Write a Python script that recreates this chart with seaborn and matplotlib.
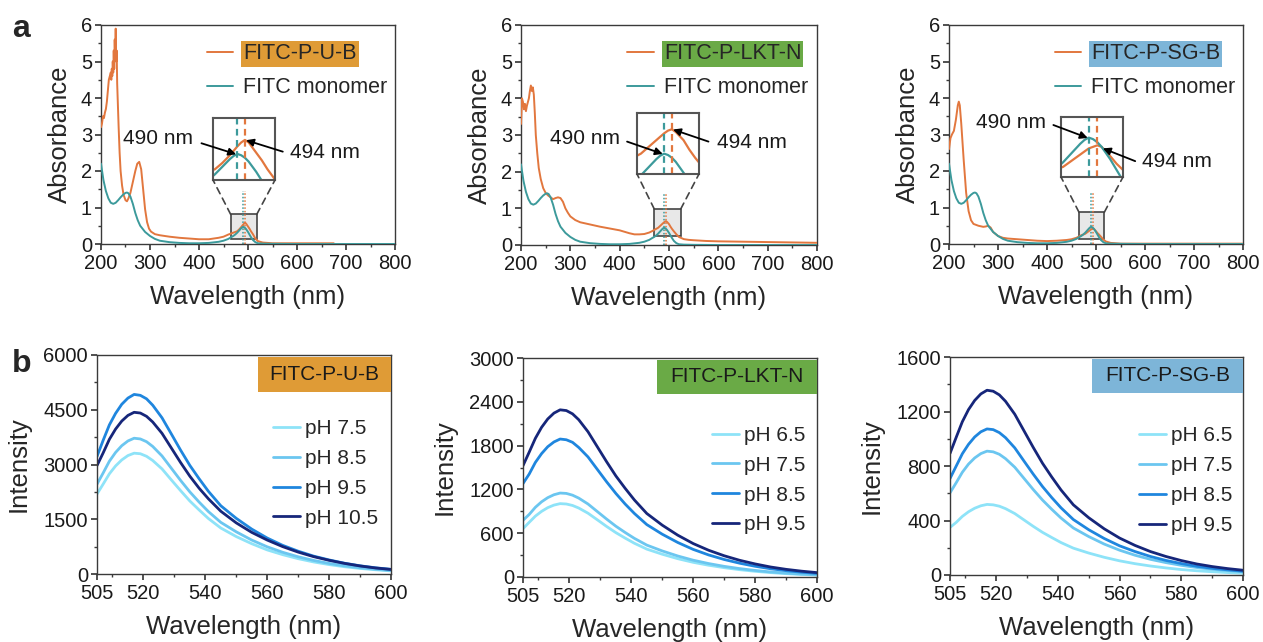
import matplotlib
matplotlib.use("Agg")
import matplotlib.pyplot as plt
import seaborn as sns
from matplotlib.patches import Rectangle, ConnectionPatch
from matplotlib.ticker import MultipleLocator

# ---------------- data: absorbance (panel a) ----------------
wl_mono = [200, 205, 210, 215, 220, 225, 230, 235, 240, 245, 250, 253, 256, 260, 265,
           270, 275, 280, 290, 300, 310, 320, 340, 360, 380, 400, 420, 440, 450, 460,
           466, 470, 474, 478, 482, 486, 488, 490, 492, 494, 496, 498, 500, 503, 506,
           510, 515, 520, 530, 550, 600, 700, 800]
abs_mono = [2.2, 1.75, 1.45, 1.25, 1.13, 1.10, 1.13, 1.2, 1.28, 1.35, 1.40, 1.41, 1.39, 1.3, 1.1,
            0.85, 0.65, 0.5, 0.33, 0.22, 0.14, 0.09, 0.05, 0.03, 0.02, 0.02, 0.03, 0.06, 0.09, 0.14,
            0.19, 0.22, 0.26, 0.31, 0.37, 0.43, 0.455, 0.47, 0.46, 0.44, 0.41, 0.37, 0.33, 0.26, 0.19,
            0.11, 0.05, 0.02, 0.01, 0.005, 0.0, 0.0, 0.0]

wl_pub = [200, 202, 204, 206, 208, 210, 212, 214, 216, 218, 220, 221, 222, 223, 224,
          225, 226, 227, 228, 229, 230, 231, 232, 233, 234, 236, 238, 240, 243, 246,
          250, 253, 256, 260, 265, 270, 274, 278, 282, 286, 290, 294, 298, 302, 310,
          320, 340, 360, 380, 400, 420, 440, 450, 460, 466, 470, 474, 478, 482, 486,
          490, 492, 494, 496, 498, 500, 503, 506, 510, 515, 520, 530, 540, 550, 600, 675]
abs_pub = [3.2, 3.3, 3.5, 3.45, 3.6, 3.7, 3.9, 4.2, 4.5, 4.6, 4.7, 4.5, 4.8, 4.6, 5.0,
           4.7, 5.3, 4.8, 5.6, 5.1, 5.9, 5.0, 5.3, 4.4, 4.0, 3.2, 2.5, 2.0, 1.6, 1.35,
           1.2, 1.17, 1.25, 1.4, 1.7, 2.0, 2.2, 2.25, 2.05, 1.5, 0.95, 0.6, 0.42, 0.34, 0.27,
           0.24, 0.2, 0.17, 0.15, 0.13, 0.13, 0.17, 0.2, 0.26, 0.29, 0.31, 0.33, 0.35, 0.40, 0.46,
           0.53, 0.56, 0.58, 0.56, 0.52, 0.48, 0.42, 0.35, 0.27, 0.15, 0.08, 0.04, 0.03, 0.02, 0.02, 0.02]

wl_lkt = [200, 202, 204, 206, 208, 210, 212, 214, 216, 218, 220, 222, 224, 226, 228,
          230, 233, 236, 240, 245, 250, 255, 260, 265, 270, 275, 280, 285, 290, 295,
          300, 310, 320, 340, 360, 380, 400, 420, 430, 440, 450, 460, 466, 470, 474,
          478, 482, 486, 490, 492, 494, 496, 498, 500, 503, 506, 510, 515, 520, 530,
          540, 550, 575, 600, 650, 700, 750, 800]
abs_lkt = [3.3, 4.0, 3.9, 3.7, 3.85, 3.65, 3.8, 3.9, 4.0, 4.2, 4.35, 4.2, 4.3, 4.1, 3.6,
           3.0, 2.5, 2.1, 1.8, 1.55, 1.42, 1.35, 1.3, 1.25, 1.28, 1.3, 1.28, 1.18, 1.0, 0.88,
           0.78, 0.68, 0.62, 0.56, 0.50, 0.45, 0.40, 0.32, 0.29, 0.29, 0.30, 0.34, 0.38, 0.41, 0.44,
           0.47, 0.52, 0.57, 0.62, 0.64, 0.65, 0.63, 0.60, 0.57, 0.50, 0.44, 0.37, 0.29, 0.22, 0.16,
           0.14, 0.13, 0.11, 0.10, 0.09, 0.08, 0.07, 0.06]

wl_sgb = [200, 203, 206, 210, 214, 218, 220, 222, 225, 230, 235, 240, 245, 250, 260,
          270, 275, 280, 285, 290, 300, 310, 320, 340, 360, 380, 400, 420, 440, 450,
          460, 466, 470, 474, 478, 482, 486, 490, 492, 494, 496, 498, 500, 503, 506,
          510, 515, 520, 530, 550, 600, 700, 800]
abs_sgb = [2.6, 2.9, 3.0, 3.1, 3.4, 3.8, 3.9, 3.8, 3.3, 2.3, 1.4, 0.9, 0.65, 0.55, 0.5,
           0.47, 0.48, 0.5, 0.45, 0.33, 0.22, 0.17, 0.15, 0.13, 0.11, 0.09, 0.08, 0.09, 0.11, 0.13,
           0.17, 0.21, 0.24, 0.26, 0.28, 0.32, 0.36, 0.40, 0.41, 0.42, 0.41, 0.38, 0.35, 0.30, 0.26,
           0.20, 0.12, 0.07, 0.03, 0.01, 0.01, 0.01, 0.01]

sample_names = ["FITC-P-U-B", "FITC-P-LKT-N", "FITC-P-SG-B"]
monomer_name = "FITC monomer"
peak_monomer = 490
peak_aggregate = 494
peak_labels = ["490 nm", "494 nm"]

# ---------------- data: emission (panel b) ----------------
em_wl = [505, 507, 509, 511, 513, 515, 517, 519, 521, 523, 526, 529, 532, 535,
         538, 541, 545, 550, 555, 560, 565, 570, 575, 580, 585, 590, 595, 600]

pub_labels = ["pH 7.5", "pH 8.5", "pH 9.5", "pH 10.5"]
pub_ph75 = [2190, 2465, 2745, 2960, 3125, 3245, 3310, 3295, 3225, 3110, 2880, 2580, 2285, 2000,
            1755, 1520, 1260, 1025, 830, 660, 530, 420, 330, 258, 199, 152, 116, 86]
pub_ph85 = [2460, 2770, 3090, 3330, 3515, 3645, 3720, 3700, 3625, 3495, 3235, 2900, 2565, 2250,
            1970, 1710, 1415, 1155, 930, 745, 595, 472, 372, 290, 223, 171, 130, 97]
pub_ph95 = [3220, 3665, 4085, 4400, 4650, 4820, 4920, 4895, 4800, 4625, 4280, 3840, 3395, 2975,
            2610, 2265, 1870, 1525, 1230, 985, 785, 625, 490, 385, 295, 225, 170, 128]
pub_ph105 = [2970, 3320, 3690, 3970, 4190, 4345, 4430, 4410, 4320, 4165, 3855, 3455, 3055, 2680,
             2350, 2060, 1720, 1400, 1140, 930, 750, 600, 475, 375, 290, 220, 165, 125]

lkt_labels = ["pH 6.5", "pH 7.5", "pH 8.5", "pH 9.5"]
lkt_ph65 = [662, 749, 834, 899, 950, 985, 1005, 1000, 980, 945, 874, 784, 693, 608,
            533, 462, 382, 312, 251, 201, 161, 128, 100, 78, 60, 46, 35, 26]
lkt_ph75 = [776, 857, 955, 1030, 1087, 1127, 1150, 1145, 1121, 1081, 1000, 897, 794, 696,
            610, 529, 437, 357, 288, 230, 184, 146, 115, 90, 69, 53, 40, 30]
lkt_ph85 = [1280, 1410, 1570, 1690, 1785, 1850, 1890, 1880, 1845, 1775, 1645, 1475, 1305, 1145,
            1000, 870, 718, 586, 473, 378, 302, 240, 189, 147, 113, 87, 66, 49]
lkt_ph95 = [1525, 1710, 1900, 2050, 2165, 2245, 2290, 2280, 2235, 2155, 1990, 1785, 1580, 1385,
            1215, 1055, 870, 710, 573, 458, 366, 291, 229, 179, 137, 105, 80, 60]

sgb_labels = ["pH 6.5", "pH 7.5", "pH 8.5", "pH 9.5"]
sgb_ph65 = [349, 386, 430, 464, 490, 508, 518, 515, 505, 487, 451, 404, 357, 313,
            275, 238, 197, 161, 130, 104, 83, 66, 52, 40, 31, 24, 18, 13]
sgb_ph75 = [603, 677, 754, 814, 859, 891, 909, 904, 886, 854, 791, 709, 627, 550,
            482, 418, 345, 282, 227, 182, 145, 115, 91, 71, 55, 42, 32, 24]
sgb_ph85 = [708, 799, 890, 959, 1013, 1051, 1072, 1067, 1045, 1008, 933, 836, 740, 649,
            568, 493, 407, 332, 268, 214, 172, 136, 107, 84, 64, 49, 38, 28]
sgb_ph95 = [892, 1010, 1125, 1214, 1281, 1329, 1356, 1349, 1322, 1275, 1180, 1058, 936, 820,
            719, 624, 515, 420, 339, 271, 217, 172, 136, 106, 81, 62, 47, 35]

# ---------------- style ----------------
sns.set_theme(style="ticks")
plt.rcParams["font.family"] = ["Liberation Sans", "DejaVu Sans"]
plt.rcParams.update({
    "axes.edgecolor": "#3a3a3a", "axes.linewidth": 1.0,
    "xtick.direction": "out", "ytick.direction": "out",
    "xtick.major.size": 4, "ytick.major.size": 4,
    "xtick.minor.size": 2.5, "ytick.minor.size": 2.5,
    "xtick.color": "#3a3a3a", "ytick.color": "#3a3a3a",
    "xtick.labelcolor": "#1a1a1a", "ytick.labelcolor": "#1a1a1a",
    "xtick.labelsize": 14.5, "ytick.labelsize": 14.5,
})

ORANGE = "#E2773E"
TEAL = "#3C9A9B"
HILITE = ["#DF9B36", "#6AAA46", "#7DB5D8"]
PH_COLS = ["#8EE3F8", "#6BC6F0", "#1F86DE", "#16267A"]
LABEL_FS = 18.5

W, H = 1263, 642
fig = plt.figure(figsize=(W / 100, H / 100), dpi=100)


def px_axes(x0, y0, x1, y1):
    return fig.add_axes([x0 / W, 1 - y1 / H, (x1 - x0) / W, (y1 - y0) / H])


abs_cfg = [
    dict(box=(101, 25, 395, 244), wl=wl_pub, ab=abs_pub, inset=(213, 118, 275, 180),
         ixl=(477, 510), iyl=(0.266, 0.752), rect=(464.7, 0.13, 517.8, 0.81), dot=1.44,
         t490=(316, 2.90), a490=(405, 2.76), h490=(489.3, 0.468),
         t494=(657, 2.52), a494=(571, 2.53), h494=(494.6, 0.578)),
    dict(box=(521, 25, 817, 245), wl=wl_lkt, ab=abs_lkt, inset=(637, 113, 699, 174),
         ixl=(476, 508), iyl=(0.32, 0.77), rect=(470.2, 0.25, 523.7, 0.98), dot=1.41,
         t490=(330, 2.91), a490=(415, 2.82), h490=(489.3, 0.468),
         t494=(668, 2.79), a494=(580, 2.82), h494=(494.6, 0.648)),
    dict(box=(949, 25, 1243, 244), wl=wl_sgb, ab=abs_sgb, inset=(1061, 117, 1123, 177),
         ixl=(477, 506), iyl=(0.214, 0.604), rect=(465.3, 0.13, 517.0, 0.87), dot=1.43,
         t490=(326, 3.32), a490=(413, 3.26), h490=(489.5, 0.468),
         t494=(665, 2.25), a494=(580, 2.27), h494=(496.6, 0.40)),
]

for i, cfg in enumerate(abs_cfg):
    ax = px_axes(*cfg["box"])
    rx0, ry0, rx1, ry1 = cfg["rect"]
    ax.add_patch(Rectangle((rx0, ry0), rx1 - rx0, ry1 - ry0, facecolor="#e8e8e8",
                           edgecolor="#444444", lw=1.2, zorder=1))
    sns.lineplot(x=cfg["wl"], y=cfg["ab"], ax=ax, color=ORANGE, lw=1.4,
                 label=sample_names[i], errorbar=None, zorder=3)
    sns.lineplot(x=wl_mono, y=abs_mono, ax=ax, color=TEAL, lw=1.4,
                 label=monomer_name, errorbar=None, zorder=3)
    ax.vlines(peak_monomer, 0, cfg["dot"], colors=TEAL, linestyles=(0, (1, 1.3)), lw=1.1, zorder=2)
    ax.vlines(peak_aggregate, 0, cfg["dot"], colors=ORANGE, linestyles=(0, (1, 1.3)), lw=1.1, zorder=2)
    ax.set_xlim(200, 800)
    ax.set_ylim(0, 6)
    ax.xaxis.set_major_locator(MultipleLocator(100))
    ax.xaxis.set_minor_locator(MultipleLocator(50))
    ax.yaxis.set_major_locator(MultipleLocator(1))
    ax.yaxis.set_minor_locator(MultipleLocator(0.5))
    ax.tick_params(axis="x", pad=3.5)
    ax.tick_params(axis="y", pad=2.5)
    ax.set_xlabel("Wavelength (nm)", fontsize=LABEL_FS, labelpad=8)
    ax.set_ylabel("Absorbance", fontsize=LABEL_FS, labelpad=6)
    leg = ax.legend(loc="upper left", bbox_to_anchor=(0.315, 0.975), frameon=False, fontsize=15.5,
                    handlelength=1.25, handletextpad=0.45, labelspacing=0.6, borderaxespad=0.2)
    leg.get_texts()[0].set_bbox(dict(facecolor=HILITE[i], edgecolor="none", pad=1.5))

    ax.text(*cfg["t490"], peak_labels[0], ha="center", va="center", fontsize=15, color="#1a1a1a")
    ax.text(*cfg["t494"], peak_labels[1], ha="center", va="center", fontsize=15, color="#1a1a1a")

    # inset (magnified view of the peak region)
    axi = px_axes(*cfg["inset"])
    sns.lineplot(x=cfg["wl"], y=cfg["ab"], ax=axi, color=ORANGE, lw=1.6, errorbar=None, legend=False)
    sns.lineplot(x=wl_mono, y=abs_mono, ax=axi, color=TEAL, lw=1.6, errorbar=None, legend=False)
    axi.axvline(peak_monomer, color=TEAL, ls=(0, (3, 2)), lw=1.6)
    axi.axvline(peak_aggregate, color=ORANGE, ls=(0, (3, 2)), lw=1.6)
    axi.set_xlim(*cfg["ixl"])
    axi.set_ylim(*cfg["iyl"])
    axi.set_xticks([])
    axi.set_yticks([])
    axi.set_xlabel("")
    axi.set_ylabel("")
    for s in axi.spines.values():
        s.set_linewidth(1.5)
        s.set_edgecolor("#555555")

    for xa, xb in [(rx0, 0), (rx1, 1)]:
        cp = ConnectionPatch(xyA=(xa, ry1), coordsA=ax.transData, xyB=(xb, 0), coordsB=axi.transAxes,
                             color="#444444", ls=(0, (4, 3)), lw=1.2)
        fig.add_artist(cp)

    for head, tail in [(cfg["h490"], cfg["a490"]), (cfg["h494"], cfg["a494"])]:
        axi.annotate("", xy=head, xycoords="data", xytext=tail, textcoords=ax.transData,
                     arrowprops=dict(arrowstyle="-|>", color="black", lw=1.3, mutation_scale=11,
                                     shrinkA=0, shrinkB=0),
                     annotation_clip=False, zorder=10)

# ---------------- emission panels ----------------
em_cfg = [
    dict(box=(97, 355, 391, 574), labels=pub_labels, series=[pub_ph75, pub_ph85, pub_ph95, pub_ph105],
         ymax=6000, ystep=1500, tag=(0.547, 0.831), leg=(0.57, 0.745)),
    dict(box=(523, 358, 817, 577), labels=lkt_labels, series=[lkt_ph65, lkt_ph75, lkt_ph85, lkt_ph95],
         ymax=3000, ystep=600, tag=(0.456, 0.836), leg=(0.615, 0.728)),
    dict(box=(950, 357, 1243, 575), labels=sgb_labels, series=[sgb_ph65, sgb_ph75, sgb_ph85, sgb_ph95],
         ymax=1600, ystep=400, tag=(0.484, 0.835), leg=(0.615, 0.72)),
]

for i, cfg in enumerate(em_cfg):
    ax = px_axes(*cfg["box"])
    for lab, vals, col in zip(cfg["labels"], cfg["series"], PH_COLS):
        sns.lineplot(x=em_wl, y=vals, ax=ax, color=col, lw=2.0, label=lab, errorbar=None)
    ax.set_xlim(505, 600)
    ax.set_ylim(0, cfg["ymax"])
    ax.set_xticks([505, 520, 540, 560, 580, 600])
    ax.xaxis.set_minor_locator(MultipleLocator(10))
    ax.yaxis.set_major_locator(MultipleLocator(cfg["ystep"]))
    ax.yaxis.set_minor_locator(MultipleLocator(cfg["ystep"] / 2))
    ax.tick_params(axis="x", pad=3.5)
    ax.tick_params(axis="y", pad=2.5)
    ax.set_xlabel("Wavelength (nm)", fontsize=LABEL_FS, labelpad=8)
    ax.set_ylabel("Intensity", fontsize=LABEL_FS, labelpad=9)
    ax.legend(loc="upper left", bbox_to_anchor=cfg["leg"], frameon=False, fontsize=15,
              handlelength=1.3, handletextpad=0.25, labelspacing=0.52, borderaxespad=0)
    bx, by = cfg["tag"]
    ax.add_patch(Rectangle((bx, by), 1 - bx, 0.992 - by, transform=ax.transAxes,
                           facecolor=HILITE[i], edgecolor="none", zorder=4, clip_on=False))
    ax.text((bx + 1) / 2, (by + 0.992) / 2, sample_names[i], transform=ax.transAxes,
            ha="center", va="center", fontsize=15, color="#1a1a1a", zorder=5)

fig.text(12 / W, 1 - 37 / H, "a", fontsize=23, fontweight="bold", ha="left", va="baseline")
fig.text(12 / W, 1 - 372 / H, "b", fontsize=23, fontweight="bold", ha="left", va="baseline")

fig.savefig("out.png", dpi=100)
